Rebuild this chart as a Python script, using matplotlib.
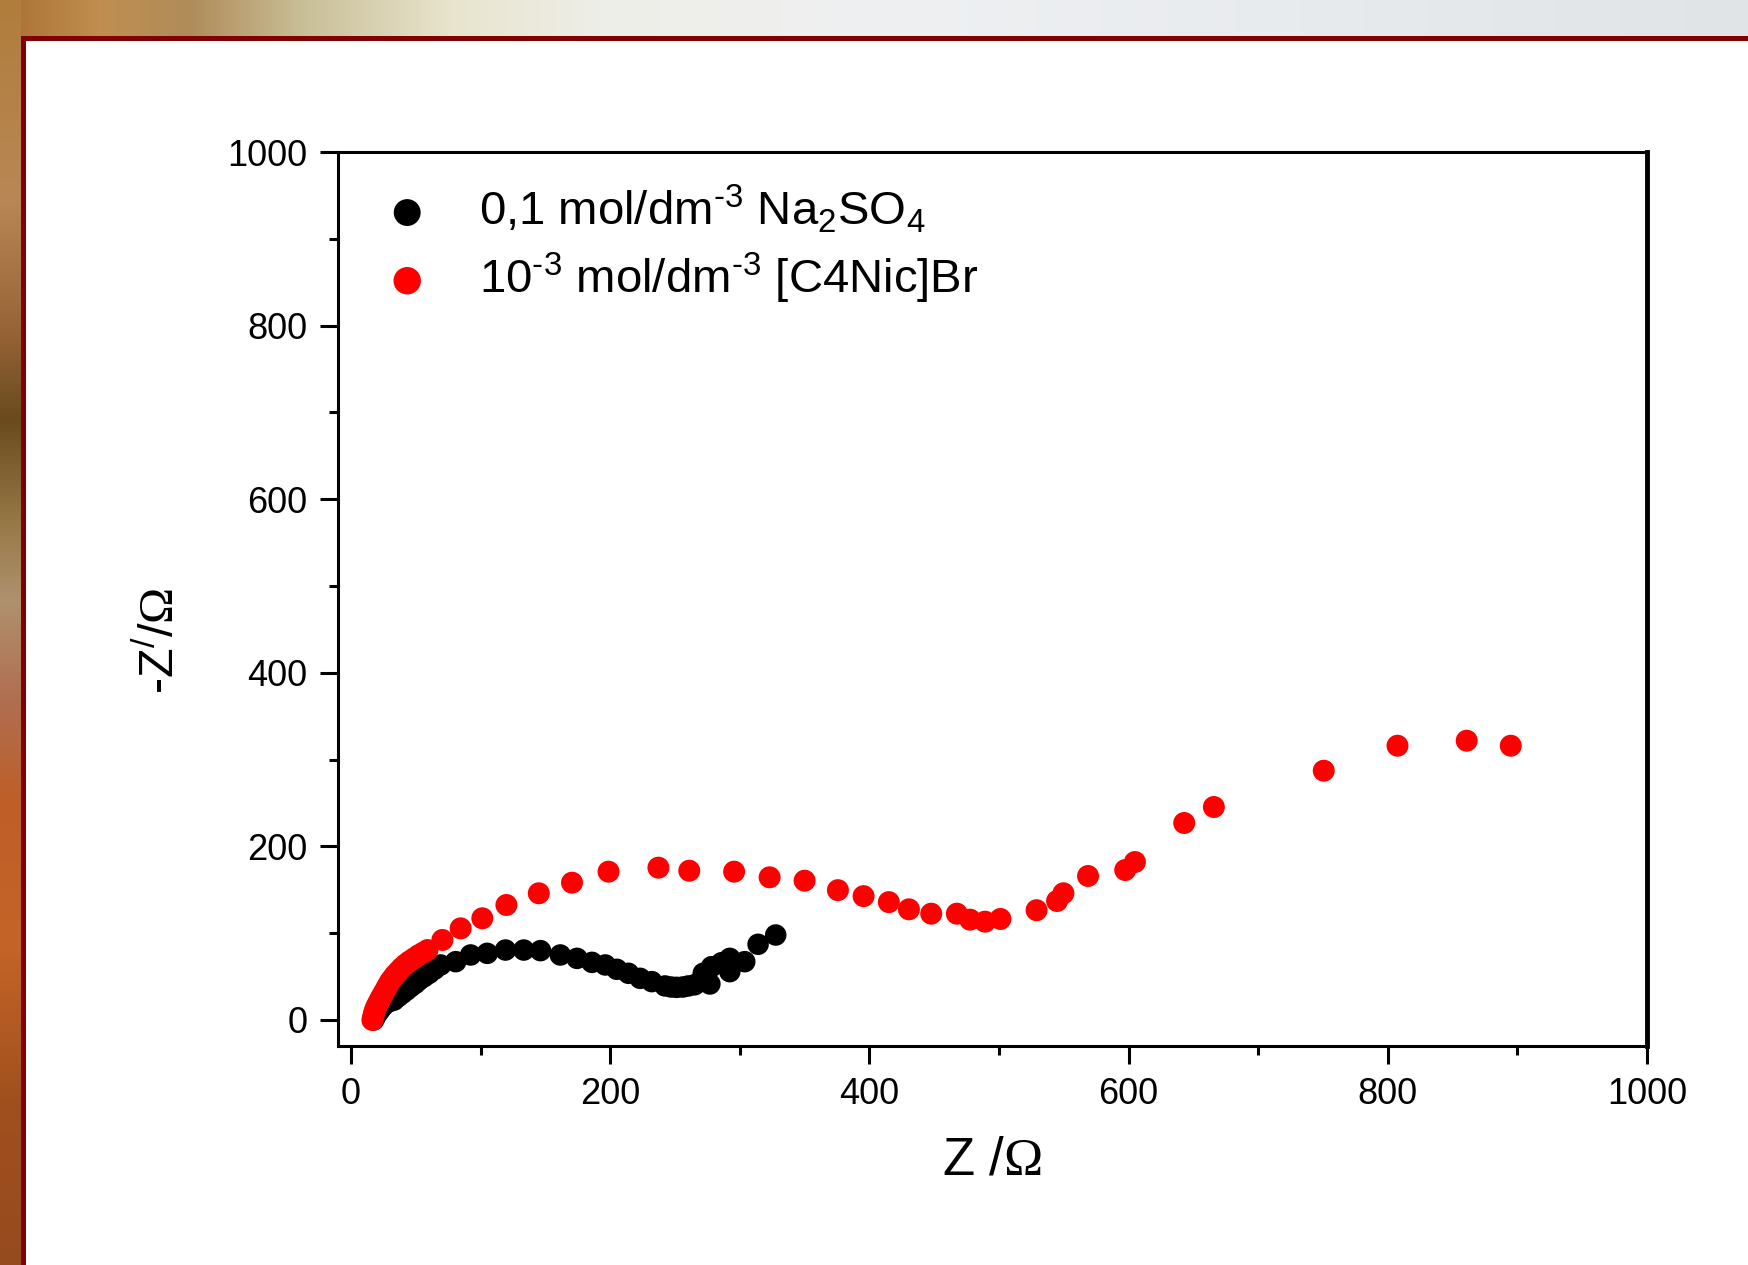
import numpy as np
import matplotlib
matplotlib.use("Agg")
import matplotlib.pyplot as plt
from matplotlib.ticker import MultipleLocator

plt.rcParams['font.family'] = ['Liberation Sans', 'DejaVu Sans']
plt.rcParams['mathtext.fontset'] = 'custom'
plt.rcParams['mathtext.rm'] = 'Liberation Sans'
plt.rcParams['mathtext.sf'] = 'Liberation Serif'
plt.rcParams['mathtext.default'] = 'regular'

# impedance data (Z' and -Z'' in ohm)
na2so4_re = [17.5, 18.5, 19.5, 21, 22.5, 24, 26, 28.5, 31, 33.3,
             36.5, 39.7, 43, 46.2, 49.5, 52.6, 56.5, 60.3, 64.5, 69.2,
             80.8, 92.3, 105.1, 119.2, 133.3, 146.2, 161.5, 174.4, 185.9, 196.2,
             205.1, 214.1, 223.1, 232.1, 242.3, 247, 251.3, 256, 260.2, 265,
             269.2, 271.8, 276.9, 278.2, 285.9, 292.3, 292.3, 303.8, 314.1, 327.7]
na2so4_im = [0, 3, 6, 9, 12, 15, 18, 20.5, 22, 23,
             27, 30.7, 34.5, 38.4, 42, 46.1, 50, 53.8, 58.5, 63.4,
             67.2, 74.9, 76.8, 80.6, 80.6, 79.9, 74.9, 71, 66.4, 63.4,
             58.4, 53.8, 48, 44.2, 39.2, 38, 37.6, 38, 39.2, 40.5,
             44, 53.8, 41.5, 61.4, 66, 71, 55.7, 67.2, 87.2, 97.9]

c4nic_re = [16.5, 17, 17.5, 18, 18.7, 19.5, 20.5, 21.5, 22.7, 24,
            25.5, 27, 28.5, 30, 32, 34, 36.5, 39, 42, 45,
            48.5, 52, 55.5, 59, 70.5, 84.6, 101.3, 119.9, 144.9, 170.5,
            198.7, 237.2, 261, 295.6, 323, 350, 375.7, 395.5, 415, 430.5,
            447.7, 467.5, 477.7, 489.2, 501.1, 529, 544.8, 549.7, 568.7, 597.4,
            604.9, 642.9, 665.8, 750.6, 807.5, 860.9, 894.9]
c4nic_im = [0, 3, 6, 9, 12, 15, 18, 21, 24.5, 28,
            32, 36, 40, 44, 48, 52, 56, 60, 64, 67.5,
            71, 74.5, 77.5, 80.6, 92.2, 105.6, 117.2, 132.5, 146, 158.2,
            170.9, 175.5, 172, 170.9, 164.4, 160.5, 149.6, 142.7, 135.8, 127.5,
            122.5, 122.5, 115.6, 113.3, 116.4, 126.5, 137.1, 146, 165.9, 172.8,
            182, 227, 245.4, 287.2, 316, 321.8, 316]

# short hyphen (U+2010) in the exponents, like the original
labels = ['0,1 mol/dm$^{\u20103}$ Na$_2$SO$_4$',
          '10$^{\u20103}$ mol/dm$^{\u20103}$ [C4Nic]Br']

W, H = 1748, 1265
fig = plt.figure(figsize=(W / 100, H / 100), dpi=100)

# slide background: wooden strip on top/left, dark red frame, white panel
def ramp(stops, n):
    pos = [s[0] for s in stops]
    return np.stack([np.interp(np.arange(n), pos, [s[1][c] for s in stops])
                     for c in range(3)], axis=-1) / 255.0

bg = np.ones((H, W, 3))
top = ramp([(0, (168, 112, 50)), (100, (192, 142, 80)), (190, (175, 140, 90)),
            (300, (200, 190, 150)), (450, (232, 228, 205)), (600, (238, 238, 232)),
            (900, (238, 240, 242)), (1300, (232, 235, 238)), (1747, (224, 228, 231))], W)
left = ramp([(0, (176, 125, 60)), (200, (185, 135, 85)), (330, (150, 100, 55)),
             (420, (105, 75, 30)), (520, (150, 120, 70)), (600, (175, 145, 110)),
             (700, (175, 110, 80)), (800, (190, 95, 40)), (950, (195, 100, 40)),
             (1100, (160, 80, 30)), (1264, (150, 75, 30))], H)
bg[:36, :, :] = top[None, :, :]
bg[:, :21, :] = left[:, None, :]
bg[36:41, 21:, :] = np.array([130, 0, 0]) / 255.0
bg[36:, 21:26, :] = np.array([130, 0, 0]) / 255.0
bga = fig.add_axes([0, 0, 1, 1], zorder=-10)
bga.imshow(bg, aspect='auto', interpolation='bilinear')
bga.axis('off')

ax = fig.add_axes([0.1934, 0.1731, 0.7488, 0.7067])
ax.set_facecolor('none')
ax.scatter(na2so4_re, na2so4_im, s=240, color='black', edgecolors='none',
           label=labels[0], zorder=3)
ax.scatter(c4nic_re, c4nic_im, s=250, color='#ff0000', edgecolors='none',
           label=labels[1], zorder=4)

ax.set_xlim(-10, 1000)
ax.set_ylim(-30, 1000)
ax.xaxis.set_major_locator(MultipleLocator(200))
ax.xaxis.set_minor_locator(MultipleLocator(100))
ax.yaxis.set_major_locator(MultipleLocator(200))
ax.yaxis.set_minor_locator(MultipleLocator(100))
ax.tick_params(which='major', direction='out', length=13, width=2.2,
               labelsize=26, pad=9, top=False, right=False)
ax.tick_params(which='minor', direction='out', length=6.5, width=2.2,
               top=False, right=False)
for side, sp in ax.spines.items():
    sp.set_linewidth(2.2)
ax.spines['right'].set_linewidth(3.5)

ax.set_xlabel(r'Z /$\mathsf{\Omega}$', fontsize=38)
ax.set_ylabel(r'-Z$^{/}$/$\mathsf{\Omega}$', fontsize=35)
ax.xaxis.set_label_coords(0.4996, -0.10)
ax.yaxis.set_label_coords(-0.118, 0.453)

ax.legend(loc='upper left', bbox_to_anchor=(0.042, 0.966), frameon=False,
          fontsize=34, handlelength=0.6, handletextpad=1.23, markerscale=1.25,
          labelspacing=0.33, borderpad=0, borderaxespad=0, scatterpoints=1)

fig.savefig('out.png', dpi=100)
